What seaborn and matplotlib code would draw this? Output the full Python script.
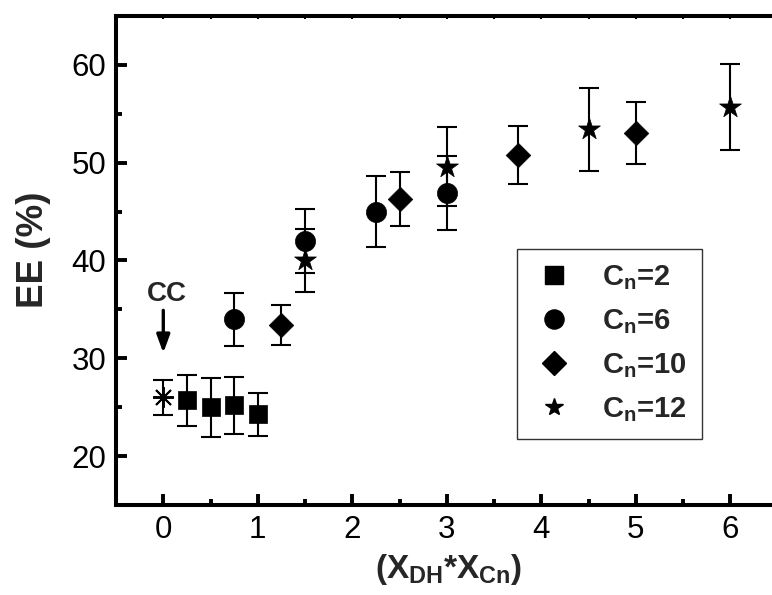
import matplotlib
matplotlib.use("Agg")
import matplotlib.pyplot as plt
from matplotlib import font_manager
from matplotlib.lines import Line2D
import numpy as np
import pandas as pd
import seaborn as sns

# ---- data -------------------------------------------------------------
cc_x = [0.0]
cc_ee = [26.0]
cc_err = [1.8]

cn2_x = [0.25, 0.5, 0.75, 1.0]
cn2_ee = [25.7, 25.0, 25.2, 24.3]
cn2_err = [2.6, 3.0, 2.9, 2.2]

cn6_x = [0.75, 1.5, 2.25, 3.0]
cn6_ee = [34.0, 42.0, 45.0, 46.9]
cn6_err = [2.7, 3.3, 3.6, 3.8]

cn10_x = [1.25, 2.5, 3.75, 5.0]
cn10_ee = [33.4, 46.3, 50.8, 53.05]
cn10_err = [2.0, 2.75, 3.0, 3.15]

cn12_x = [1.5, 3.0, 4.5, 6.0]
cn12_ee = [40.0, 49.6, 53.4, 55.7]
cn12_err = [3.2, 4.0, 4.25, 4.4]

series_labels = ["2", "6", "10", "12"]
x_ticks = [0, 1, 2, 3, 4, 5, 6]
y_ticks = [20, 30, 40, 50, 60]

# ---- style ------------------------------------------------------------
sns.set_theme(style="ticks")
installed = {f.name for f in font_manager.fontManager.ttflist}
base_font = "Liberation Sans" if "Liberation Sans" in installed else "DejaVu Sans"
plt.rcParams["font.family"] = [base_font, "DejaVu Sans"]
plt.rcParams["mathtext.fontset"] = "custom"
plt.rcParams["mathtext.rm"] = f"{base_font}:bold"
plt.rcParams["mathtext.bf"] = f"{base_font}:bold"
plt.rcParams["mathtext.it"] = f"{base_font}:bold"

frames = []
for lab, xs, ys, es in [("2", cn2_x, cn2_ee, cn2_err), ("6", cn6_x, cn6_ee, cn6_err),
                        ("10", cn10_x, cn10_ee, cn10_err), ("12", cn12_x, cn12_ee, cn12_err)]:
    frames.append(pd.DataFrame({"x": xs, "ee": ys, "err": es, "Cn": lab}))
df = pd.concat(frames, ignore_index=True)

markers = {"2": "s", "6": "o", "10": "D", "12": "*"}
sizes_pt = {"2": 13.5, "6": 14.5, "10": 12.5, "12": 16.5}

fig = plt.figure(figsize=(7.72, 5.95), dpi=100)
ax = fig.add_axes([0.1503, 0.1513, 0.857, 0.8218])

# error bars first, markers on top
for lab, sub in df.groupby("Cn", sort=False):
    ax.errorbar(sub["x"], sub["ee"], yerr=sub["err"], fmt="none",
                ecolor="black", elinewidth=1.5, capsize=7.2, capthick=1.5, zorder=2)
ax.errorbar(cc_x, cc_ee, yerr=cc_err, fmt="none", ecolor="black",
            elinewidth=1.5, capsize=7.2, capthick=1.5, zorder=2)

for lab in series_labels:
    sub = df[df["Cn"] == lab]
    sns.scatterplot(data=sub, x="x", y="ee", marker=markers[lab],
                    s=sizes_pt[lab] ** 2, color="black", edgecolor="black",
                    linewidth=0.5, ax=ax, zorder=3, legend=False)

# control point (eight-armed asterisk)
ax.plot(cc_x, cc_ee, linestyle="none", marker=(8, 2, 0), markersize=15,
        markeredgewidth=1.4, color="black", zorder=3)

ax.annotate("", xy=(0.0, 30.55), xytext=(0.0, 34.9),
            arrowprops=dict(arrowstyle="-|>,head_length=0.9,head_width=0.33",
                            color="black", lw=2.4, shrinkA=0, shrinkB=0))
ax.text(0.04, 36.6, "CC", fontsize=20, fontweight="bold", ha="center", va="center")

ax.set_xlim(-0.5, 6.5)
ax.set_ylim(15, 65)
ax.set_xticks(x_ticks)
ax.set_xticklabels([str(t) for t in x_ticks])
ax.set_yticks(y_ticks)
ax.set_yticklabels([str(t) for t in y_ticks])
ax.set_xticks(np.arange(-0.5, 6.51, 0.5), minor=True)
ax.set_yticks(np.arange(15, 65.1, 5), minor=True)

ax.tick_params(axis="both", which="major", direction="in", length=8, width=2.8,
               labelsize=22.5, colors="black", pad=7)
ax.tick_params(axis="both", which="minor", direction="in", length=4.5, width=2.8,
               colors="black")
ax.tick_params(axis="x", which="both", top=True)
for t in ax.xaxis.get_major_ticks() + ax.xaxis.get_minor_ticks():
    t.tick2line.set_markersize(2.5)
    t.tick2line.set_markeredgewidth(1.5)

for side in ["left", "bottom", "top"]:
    ax.spines[side].set_linewidth(2.9)
    ax.spines[side].set_color("black")
ax.spines["right"].set_visible(False)

ax.set_xlabel(r"$\mathbf{(X_{DH}}$*$\mathbf{X_{Cn})}$", fontsize=24, fontweight="bold")
ax.xaxis.set_label_coords(0.503, -0.097)
ax.set_ylabel("EE (%)", fontsize=26.5, fontweight="bold")
ax.yaxis.set_label_coords(-0.098, 0.522)

handles = [Line2D([], [], linestyle="none", marker=markers[l], color="black",
                  markersize=sizes_pt[l] * (0.95 if l != "12" else 0.8))
           for l in series_labels]
labels = [rf"$\mathbf{{C_n}}$=" + l for l in series_labels]
leg = fig.legend(handles, labels, loc="upper left",
                 bbox_to_anchor=(517 / 772, 1 - 249 / 595),
                 frameon=True, fancybox=False, edgecolor="black",
                 prop={"size": 21, "weight": "bold"}, handletextpad=0.88,
                 labelspacing=0.52, borderpad=0.5, handlelength=1.55,
                 borderaxespad=0)
leg.get_frame().set_linewidth(1.0)

fig.savefig("out.png", dpi=100)
